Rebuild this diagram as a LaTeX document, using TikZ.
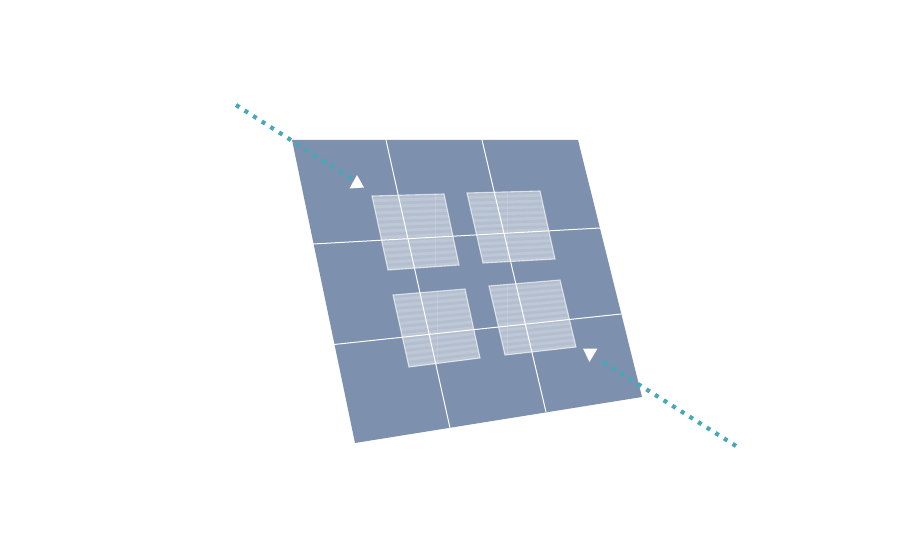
\documentclass[tikz,border=0pt]{standalone}
\usepackage{tikz}
\usetikzlibrary{calc}

\definecolor{platecol}{HTML}{7D90AD}
\definecolor{beamcol}{HTML}{45A9B7}

\newcommand{\windowpane}[5]{%
  \fill[panefill] #1 -- #2 -- #3 -- #4 -- cycle;
  \foreach \i in {0,...,11} {
    \pgfmathsetmacro{\ta}{(\i+0.5)/12}
    \pgfmathsetmacro{\tb}{(\i+1)/12}
    \fill[panestripe] ($#1!\ta!#4$) -- ($#2!\ta!#3$) -- ($#2!\tb!#3$) -- ($#1!\tb!#4$) -- cycle;
  }
  \begin{scope}
    \clip #1 -- #2 -- #3 -- #4 -- cycle;
    \draw[panerib] (#5,150) -- (#5,400);
  \end{scope}
  \draw[paneedge] #1 -- #2 -- #3 -- #4 -- cycle;
}

\begin{document}
\begin{tikzpicture}[x=1pt,y=-1pt]
  \tikzset{
    plate/.style={fill=platecol},
    gridline/.style={draw=white,line width=1pt},
    panefill/.style={fill=white,opacity=0.42},
    panestripe/.style={fill=white,opacity=0.14},
    panerib/.style={draw=white,opacity=0.15,line width=1pt},
    paneedge/.style={draw=white,opacity=0.65,line width=1.1pt},
    beam/.style={draw=beamcol,line width=4.2pt,dash pattern=on 4pt off 6.2pt},
    marker/.style={fill=white}
  }
  \useasboundingbox (0,0) rectangle (916,540);
  % plate
  \fill[plate] (292,140) -- (578,140) -- (642,397) -- (355,443) -- cycle;
  % beam
  \coordinate (inA) at (236,105);
  \coordinate (inB) at (352,179);
  \coordinate (outA) at (600,360);
  \coordinate (outB) at (736,446);
  \draw[beam] (inA) -- (inB);
  \draw[beam] (outB) -- (outA);
  % windows
  \windowpane{(372,196)}{(444,194)}{(459,265)}{(388,270)}{435}
  \windowpane{(467,193)}{(540,191)}{(555,259)}{(483,263)}{507}
  \windowpane{(393,295)}{(465,289)}{(480,358)}{(409,367)}{437}
  \windowpane{(489,286)}{(560,280)}{(576,347)}{(505,355)}{507}
  % grid
  \draw[gridline] (386,140) -- (450,428);
  \draw[gridline] (482,140) -- (546,412);
  \draw[gridline] (313,244) -- (600,228);
  \draw[gridline] (334,344.5) -- (621,314);
  % markers
  \fill[marker] (357,175) -- (364,187.5) -- (349.5,188.5) -- cycle;
  \fill[marker] (583,348.5) -- (597.5,348.5) -- (589.5,362) -- cycle;
\end{tikzpicture}
\end{document}
